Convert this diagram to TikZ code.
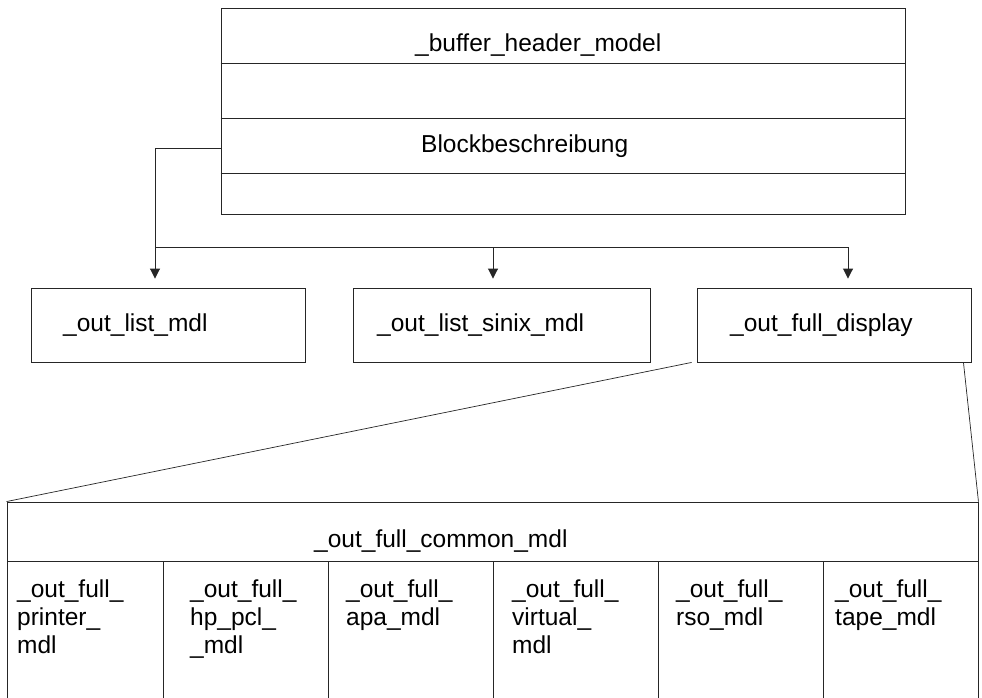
\documentclass[tikz,border=0pt]{standalone}
\usepackage{fontspec}
\setmainfont{Liberation Sans}
\usetikzlibrary{arrows.meta}
\begin{document}
\begin{tikzpicture}[x=1pt,y=-1pt,
  frame/.style={draw=black!85, line width=0.9pt, rectangle, inner sep=0pt},
  wire/.style={draw=black!85, line width=0.9pt},
  arr/.style={wire, -{Triangle[width=10pt,length=10pt]}, shorten >=9pt},
  lbl/.style={anchor=base west, inner sep=0pt, font=\fontsize{24.5}{28}\selectfont}]
\useasboundingbox[fill=white] (0,0) rectangle (982,698);

% record-style header box with four rows
\node[frame, minimum width=684pt, minimum height=206pt] (hdr) at (563,111) {};
\coordinate (rowA) at (0,63);
\coordinate (rowB) at (0,118);
\coordinate (rowC) at (0,173);
\coordinate (tapY) at (0,148);
\draw[wire] (hdr.west |- rowA) -- (hdr.east |- rowA);
\draw[wire] (hdr.west |- rowB) -- (hdr.east |- rowB);
\draw[wire] (hdr.west |- rowC) -- (hdr.east |- rowC);
\node[lbl] (thdr) at (415,52) {\_buffer\_header\_model};
\node[lbl] (tblk) at (421,153) {Blockbeschreibung};

% three derived models
\node[frame, minimum width=274pt, minimum height=74pt] (list)  at (168,325) {};
\node[frame, minimum width=297pt, minimum height=74pt] (sinix) at (501.5,325) {};
\node[frame, minimum width=274pt, minimum height=74pt] (disp)  at (834,325) {};
\node[lbl] (tlist)  at (63,331)  {\_out\_list\_mdl};
\node[lbl] (tsinix) at (377,331) {\_out\_list\_sinix\_mdl};
\node[lbl] (tdisp)  at (730,331) {\_out\_full\_display};

% connectors from the block description row
\coordinate (tap) at (hdr.west |- tapY);
\coordinate (busL) at (155,247);
\coordinate (busM) at (493,247);
\coordinate (busR) at (848,247);
\draw[wire] (tap) -| (busL);
\draw[wire] (busL) -- (busR);
\draw[arr] (busL) -- (busL |- list.north);
\draw[arr] (busM) -- (busM |- sinix.north);
\draw[arr] (busR) -- (busR |- disp.north);

% expanded display model
\node[frame, minimum width=971pt, minimum height=59pt] (common) at (492.5,531.5) {};
\node[lbl] (tcommon) at (314,547) {\_out\_full\_common\_mdl};
\node[frame, minimum width=156pt, minimum height=149pt] (colA) at (85,635.5) {};
\node[frame, minimum width=165pt, minimum height=149pt] (colB) at (245.5,635.5) {};
\node[frame, minimum width=165pt, minimum height=149pt] (colC) at (410.5,635.5) {};
\node[frame, minimum width=165pt, minimum height=149pt] (colD) at (575.5,635.5) {};
\node[frame, minimum width=165pt, minimum height=149pt] (colE) at (740.5,635.5) {};
\node[frame, minimum width=155pt, minimum height=149pt] (colF) at (900.5,635.5) {};

\node[lbl] (tA) at (17,597)  {\begin{tabular}[t]{@{}l@{}}\_out\_full\_\\printer\_\\mdl\end{tabular}};
\node[lbl] (tB) at (190,597) {\begin{tabular}[t]{@{}l@{}}\_out\_full\_\\hp\_pcl\_\\\_mdl\end{tabular}};
\node[lbl] (tC) at (346,597) {\begin{tabular}[t]{@{}l@{}}\_out\_full\_\\apa\_mdl\end{tabular}};
\node[lbl] (tD) at (512,597) {\begin{tabular}[t]{@{}l@{}}\_out\_full\_\\virtual\_\\mdl\end{tabular}};
\node[lbl] (tE) at (676,597) {\begin{tabular}[t]{@{}l@{}}\_out\_full\_\\rso\_mdl\end{tabular}};
\node[lbl] (tF) at (835,597) {\begin{tabular}[t]{@{}l@{}}\_out\_full\_\\tape\_mdl\end{tabular}};

% expansion lines from the display model to its parts
\draw[wire, line width=0.7pt] ([xshift=-5pt]disp.south west) -- (common.north west);
\draw[wire, line width=0.7pt] ([xshift=-8pt]disp.south east) -- (common.north east);
\end{tikzpicture}
\end{document}
